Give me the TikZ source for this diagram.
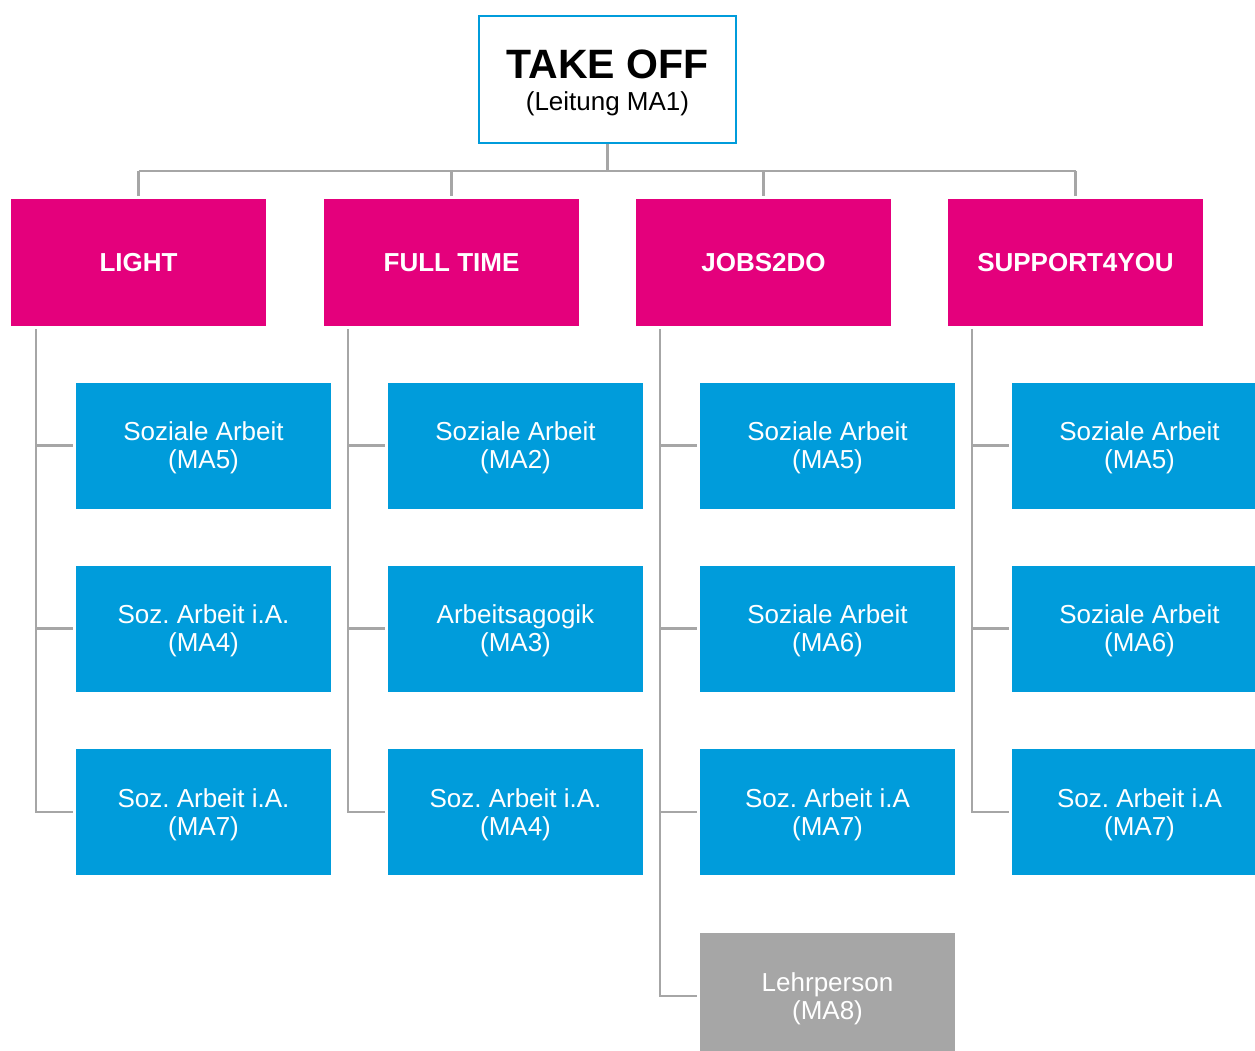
\documentclass[tikz,border=0pt]{standalone}
\usepackage{fontspec}
\setmainfont{Liberation Sans}
\frenchspacing
\definecolor{pinkc}{RGB}{228,0,124}
\definecolor{bluec}{RGB}{0,156,219}
\definecolor{grayc}{RGB}{166,166,166}
\definecolor{linec}{RGB}{166,166,166}
\begin{document}
\begin{tikzpicture}[x=1pt,y=-1pt,
  topbox/.style={draw=bluec,line width=2.5pt,fill=white,minimum width=257pt,minimum height=127pt,inner sep=0pt},
  toptext/.style={align=center,font=\fontsize{26}{32}\selectfont,yshift=-3.5pt},
  headbox/.style={fill=pinkc,text=white,minimum width=255pt,minimum height=126pt,inner sep=0pt,font=\fontsize{26}{28}\selectfont\bfseries},
  cell/.style={minimum width=255pt,minimum height=126pt,inner sep=0pt},
  celltext/.style={text=white,align=center,font=\fontsize{26}{28}\selectfont,yshift=-2.5pt},
  staffbox/.style={cell,fill=bluec,label={[celltext]center:#1}},
  teachbox/.style={cell,fill=grayc,label={[celltext]center:#1}},
  conn/.style={draw=linec,line width=2.4pt},
  branch/.style={conn,shorten >=3pt}
]
\useasboundingbox (0,0) rectangle (1255,1051);
% top
\node[topbox,label={[toptext]center:{{\fontsize{41}{32}\selectfont\bfseries TAKE OFF}\\(Leitung MA1)}}] (top) at (607.5,79.5) {};
% heads
\node[headbox] (light) at (138.5,262.5) {LIGHT};
\node[headbox] (full) at (451.5,262.5) {FULL TIME};
\node[headbox] (jobs) at (763.5,262.5) {JOBS2DO};
\node[headbox] (supp) at (1075.5,262.5) {SUPPORT4YOU};
% staff
\node[staffbox={Soziale Arbeit\\(MA5)}] (la) at (203.5,445.5) {};
\node[staffbox={Soz. Arbeit i.A.\\(MA4)}] (lb) at (203.5,628.5) {};
\node[staffbox={Soz. Arbeit i.A.\\(MA7)}] (lc) at (203.5,812) {};
\node[staffbox={Soziale Arbeit\\(MA2)}] (fa) at (515.5,445.5) {};
\node[staffbox={Arbeitsagogik\\(MA3)}] (fb) at (515.5,628.5) {};
\node[staffbox={Soz. Arbeit i.A.\\(MA4)}] (fc) at (515.5,812) {};
\node[staffbox={Soziale Arbeit\\(MA5)}] (ja) at (827.5,445.5) {};
\node[staffbox={Soziale Arbeit\\(MA6)}] (jb) at (827.5,628.5) {};
\node[staffbox={Soz. Arbeit i.A\\(MA7)}] (jc) at (827.5,812) {};
\node[teachbox={Lehrperson\\(MA8)}] (jd) at (827.5,996) {};
\node[staffbox={Soziale Arbeit\\(MA5)}] (sa) at (1139.5,445.5) {};
\node[staffbox={Soziale Arbeit\\(MA6)}] (sb) at (1139.5,628.5) {};
\node[staffbox={Soz. Arbeit i.A\\(MA7)}] (sc) at (1139.5,812) {};
% top connectors
\coordinate (bus) at (607.5,171);
\coordinate (busl) at (138.5,171);
\coordinate (busr) at (1075.5,171);
\draw[conn] (top.south) -- (bus);
\draw[conn] (busl) -- (busr);
\draw[conn,shorten >=3pt] (busl) -- (light.north);
\draw[conn,shorten >=3pt] (451.5,171) -- (full.north);
\draw[conn,shorten >=3pt] (763.5,171) -- (jobs.north);
\draw[conn,shorten >=3pt] (busr) -- (supp.north);
% side connectors
\coordinate (l0) at (36,329);
\coordinate (f0) at (348,329);
\coordinate (j0) at (660,329);
\coordinate (s0) at (972,329);
\foreach \s/\n in {l0/la,l0/lb,l0/lc,f0/fa,f0/fb,f0/fc,j0/ja,j0/jb,j0/jc,j0/jd,s0/sa,s0/sb,s0/sc}
  \draw[branch] (\s) |- (\n.west);
\end{tikzpicture}
\end{document}
